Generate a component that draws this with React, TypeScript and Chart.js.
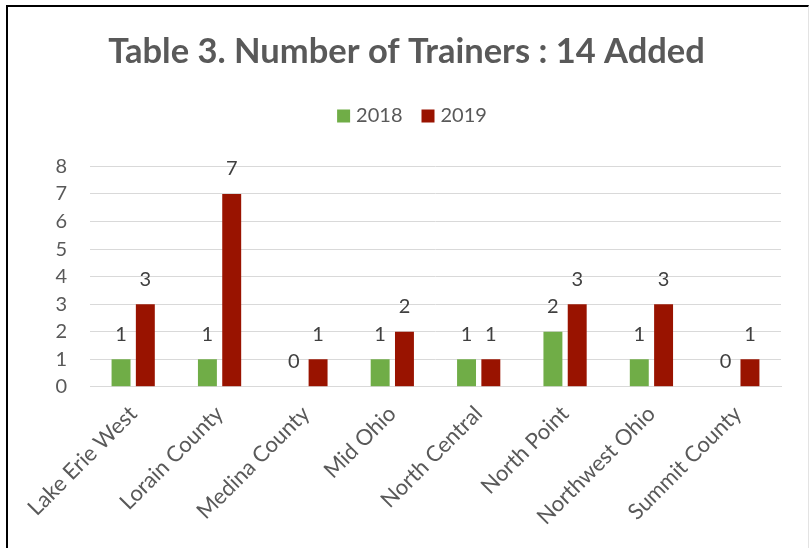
import React, { useEffect, useRef } from "react";
import { Chart, registerables } from "chart.js";

Chart.register(...registerables);

const categories = [
  "Lake Erie West",
  "Lorain County",
  "Medina County",
  "Mid Ohio",
  "North Central",
  "North Point",
  "Northwest Ohio",
  "Summit County",
];
const values2018 = [1, 1, 0, 1, 1, 2, 1, 0];
const values2019 = [3, 7, 1, 2, 1, 3, 3, 1];
const yMin = 0;
const yMax = 8;
const yStep = 1;
const titleText = "Table 3. Number of Trainers : 14 Added";

const FONT = "Lato, 'DejaVu Sans', sans-serif";
const GREEN = "#70AD47";
const RED = "#991300";
const TEXT = "#595959";

const valueLabels = {
  id: "valueLabels",
  afterDatasetsDraw(chart: any) {
    const ctx = chart.ctx;
    ctx.save();
    ctx.font = `20px ${FONT}`;
    ctx.fillStyle = "#404040";
    ctx.textAlign = "center";
    ctx.textBaseline = "middle";
    chart.data.datasets.forEach((ds: any, i: number) => {
      const meta = chart.getDatasetMeta(i);
      meta.data.forEach((bar: any, j: number) => {
        ctx.fillText(String(ds.data[j]), bar.x, bar.y - 25);
      });
    });
    ctx.restore();
  },
};

const customLegend = {
  id: "customLegend",
  afterDraw(chart: any) {
    const ctx = chart.ctx;
    ctx.save();
    ctx.font = `20px ${FONT}`;
    ctx.textBaseline = "middle";
    ctx.textAlign = "left";
    const box = 13;
    const gapText = 6;
    const gapItem = 19;
    const items = chart.data.datasets.map((ds: any) => ({
      text: ds.label,
      color: ds.backgroundColor,
      w: box + gapText + ctx.measureText(ds.label).width,
    }));
    const total =
      items.reduce((s: number, it: any) => s + it.w, 0) + gapItem * (items.length - 1);
    let x = 412 - total / 2;
    const cy = 116;
    items.forEach((it: any) => {
      ctx.fillStyle = it.color;
      ctx.fillRect(x, cy - box / 2, box, box);
      ctx.fillStyle = TEXT;
      ctx.fillText(it.text, x + box + gapText, cy);
      x += it.w + gapItem;
    });
    ctx.restore();
  },
};

export default function App() {
  const ref = useRef<HTMLCanvasElement>(null);
  useEffect(() => {
    if (!ref.current) return;
    const chart = new Chart(ref.current, {
      type: "bar",
      data: {
        labels: categories,
        datasets: [
          {
            label: "2018",
            data: values2018,
            backgroundColor: GREEN,
            categoryPercentage: 0.5625,
            barPercentage: 0.78,
          },
          {
            label: "2019",
            data: values2019,
            backgroundColor: RED,
            categoryPercentage: 0.5625,
            barPercentage: 0.78,
          },
        ],
      },
      options: {
        animation: false,
        responsive: false,
        maintainAspectRatio: false,
        layout: { padding: { left: 32, right: 28, top: 0, bottom: 4 } },
        plugins: {
          legend: { display: false },
          tooltip: { enabled: false },
          title: {
            display: true,
            text: titleText,
            color: TEXT,
            font: { family: FONT, size: 34.5, weight: "bold" },
            padding: { top: 31, bottom: 94 },
          },
        },
        scales: {
          x: {
            grid: { display: false, drawTicks: false },
            border: { display: true, color: "#d9d9d9", width: 1 },
            ticks: {
              color: TEXT,
              font: { family: FONT, size: 22 },
              minRotation: 45,
              maxRotation: 45,
              padding: 14,
            },
          },
          y: {
            min: yMin,
            max: yMax,
            afterFit(scale: any) {
              scale.width = 58;
            },
            grid: { color: "#d9d9d9", lineWidth: 1, drawTicks: false },
            border: { display: false },
            ticks: {
              color: TEXT,
              font: { family: FONT, size: 20 },
              padding: 23,
              stepSize: yStep,
              autoSkip: false,
            },
          },
        },
      },
      plugins: [valueLabels, customLegend],
    });
    return () => chart.destroy();
  }, []);

  return (
    <div style={{ position: "absolute", left: 0, top: 0, width: 809, height: 548, background: "#fff" }}>
      <div
        style={{
          position: "absolute",
          left: 6,
          top: 5,
          width: 803,
          height: 543,
          boxSizing: "border-box",
          borderLeft: "2px solid #000",
          borderTop: "2px solid #000",
          borderRight: "1px solid #e3e3e3",
        }}
      />
      <canvas ref={ref} width={809} height={548} style={{ position: "absolute", left: 0, top: 0 }} />
    </div>
  );
}
